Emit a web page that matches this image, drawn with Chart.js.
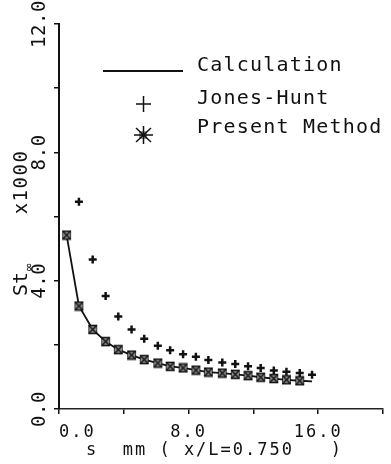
<!DOCTYPE html>
<html>
<head>
<meta charset="utf-8">
<script src="https://cdn.jsdelivr.net/npm/chart.js@4.4.0/dist/chart.umd.min.js"></script>
<style>
  html, body { margin: 0; padding: 0; background: #fff; }
  #wrap { width: 391px; height: 464px; }
</style>
</head>
<body>
<div id="wrap"><canvas id="chart" width="391" height="464"></canvas></div>
<script>
// s positions (mm)
const sPos = [0.47, 1.23, 2.08, 2.88, 3.66, 4.48, 5.26, 6.10, 6.86, 7.66,
              8.45, 9.22, 10.08, 10.88, 11.67, 12.45, 13.26, 14.04, 14.86, 15.62];

// St x 1000
const calcValues = [5.42, 3.21, 2.48, 2.10, 1.85, 1.68, 1.54, 1.43, 1.33, 1.28,
                    1.21, 1.15, 1.12, 1.08, 1.04, 0.99, 0.95, 0.91, 0.88, 0.86];
const presentValues = [5.42, 3.21, 2.48, 2.10, 1.85, 1.68, 1.54, 1.43, 1.33, 1.28,
                       1.21, 1.15, 1.12, 1.08, 1.04, 0.99, 0.95, 0.91, 0.88];
// Jones-Hunt starts at the second s position
const jonesValues = [6.46, 4.66, 3.52, 2.88, 2.48, 2.19, 1.97, 1.83, 1.71, 1.63,
                     1.53, 1.45, 1.40, 1.33, 1.28, 1.20, 1.16, 1.12, 1.07];

const xTickValues = [0, 8, 16];
const xTickLabels = ['0.0', '8.0', '16.0'];
const yTickValues = [0, 4, 8, 12];
const yTickLabels = ['0.0', '4.0', '8.0', '12.0'];
const legendLabels = ['Calculation', 'Jones-Hunt', 'Present Method'];

const MONO = '"DejaVu Sans Mono", "Liberation Mono", monospace';

// marker for "Present Method" points (box with a cross)
function makeBoxStar() {
  const c = document.createElement('canvas');
  c.width = 11; c.height = 11;
  const g = c.getContext('2d');
  g.fillStyle = '#8c8c8c';
  g.fillRect(2, 2, 7, 7);
  g.strokeStyle = '#111';
  g.lineWidth = 1.3;
  g.beginPath();
  g.moveTo(1, 1.5); g.lineTo(10, 1.5);
  g.moveTo(1, 9.5); g.lineTo(10, 9.5);
  g.moveTo(2, 2); g.lineTo(9, 9);
  g.moveTo(9, 2); g.lineTo(2, 9);
  g.stroke();
  g.lineWidth = 0.8;
  g.beginPath();
  g.moveTo(1.5, 2); g.lineTo(1.5, 9);
  g.moveTo(9.5, 2); g.lineTo(9.5, 9);
  g.stroke();
  return c;
}
const boxStar = makeBoxStar();

function toPoints(xs, ys, offset) {
  return ys.map((y, i) => ({ x: xs[i + offset], y: y }));
}

// текст: подписи осей, легенда
const paperText = {
  id: 'paperText',
  afterDraw(chart) {
    const ctx = chart.ctx;
    const xs = chart.scales.x;
    const ys = chart.scales.y;
    ctx.save();
    ctx.fillStyle = '#111';
    ctx.strokeStyle = '#111';

    // x tick labels
    ctx.font = '17px ' + MONO;
    ctx.letterSpacing = '2px';
    ctx.textBaseline = 'alphabetic';
    xTickValues.forEach((v, i) => {
      const px = xs.getPixelForValue(v);
      ctx.textAlign = i === 0 ? 'left' : 'center';
      ctx.fillText(xTickLabels[i], px, 437);
    });

    // x title
    ctx.textAlign = 'left';
    ctx.fillText('s  mm ( x/L=0.750   )', 86, 455);

    // y tick labels, rotated
    ctx.font = '19px ' + MONO;
    ctx.letterSpacing = '0.6px';
    ctx.textAlign = 'center';
    ctx.textBaseline = 'middle';
    yTickValues.forEach((v, i) => {
      const py = ys.getPixelForValue(v);
      ctx.save();
      ctx.translate(40, py);
      ctx.rotate(-Math.PI / 2);
      ctx.fillText(yTickLabels[i], 0, 0);
      ctx.restore();
    });

    // y title
    ctx.save();
    ctx.translate(22, 182);
    ctx.rotate(-Math.PI / 2);
    ctx.font = '19px ' + MONO;
    ctx.letterSpacing = '1.5px';
    ctx.fillText('x1000', 0, 0);
    ctx.restore();

    ctx.save();
    ctx.translate(22, 284);
    ctx.rotate(-Math.PI / 2);
    ctx.font = '20px ' + MONO;
    ctx.letterSpacing = '0px';
    ctx.fillText('St', 0, 0);
    ctx.restore();

    ctx.save();
    ctx.translate(30, 267);
    ctx.rotate(-Math.PI / 2);
    ctx.font = '13px ' + MONO;
    ctx.fillText('\u221e', 0, 0);
    ctx.restore();

    // legend
    ctx.font = '20px ' + MONO;
    ctx.letterSpacing = '1.2px';
    ctx.textAlign = 'left';
    ctx.textBaseline = 'alphabetic';
    ctx.fillText(legendLabels[0], 197, 71);
    ctx.fillText(legendLabels[1], 197, 104);
    ctx.fillText(legendLabels[2], 197, 133);

    ctx.lineWidth = 2;
    ctx.beginPath();
    ctx.moveTo(103, 71); ctx.lineTo(183, 71);
    ctx.stroke();

    ctx.lineWidth = 1.5;
    ctx.beginPath();
    ctx.moveTo(136, 104); ctx.lineTo(151, 104);
    ctx.moveTo(143.5, 96); ctx.lineTo(143.5, 112);
    ctx.stroke();

    // big star
    ctx.fillStyle = '#999';
    ctx.fillRect(139, 131, 8, 8);
    ctx.lineWidth = 1.5;
    ctx.beginPath();
    ctx.moveTo(134, 135); ctx.lineTo(153, 135);
    ctx.moveTo(143.5, 126); ctx.lineTo(143.5, 144);
    ctx.moveTo(136, 128); ctx.lineTo(151, 142);
    ctx.moveTo(151, 128); ctx.lineTo(136, 142);
    ctx.stroke();

    ctx.restore();
  }
};

const ctx = document.getElementById('chart').getContext('2d');
new Chart(ctx, {
  type: 'scatter',
  data: {
    datasets: [
      {
        label: legendLabels[2],
        data: toPoints(sPos, presentValues, 0),
        showLine: false,
        pointStyle: boxStar,
        pointRadius: 5
      },
      {
        label: legendLabels[1],
        data: toPoints(sPos, jonesValues, 1),
        showLine: false,
        pointStyle: 'cross',
        pointRadius: 4,
        borderWidth: 2.5,
        borderColor: '#111'
      },
      {
        label: legendLabels[0],
        data: toPoints(sPos, calcValues, 0),
        showLine: true,
        borderColor: '#111',
        borderWidth: 1.8,
        pointRadius: 0,
        tension: 0
      }
    ]
  },
  options: {
    responsive: false,
    animation: false,
    layout: { padding: { left: 0, right: 8, top: 24, bottom: 0 } },
    plugins: {
      legend: { display: false },
      tooltip: { enabled: false }
    },
    scales: {
      x: {
        type: 'linear',
        min: 0,
        max: 20,
        ticks: { stepSize: 4, display: false },
        grid: { drawOnChartArea: false, drawTicks: true, tickLength: 5, color: '#111', lineWidth: 1.5 },
        border: { display: true, color: '#222', width: 1.5 },
        afterFit(s) { s.height = 55; }
      },
      y: {
        min: 0,
        max: 12,
        ticks: { stepSize: 2, display: false },
        grid: { drawOnChartArea: false, drawTicks: true, tickLength: 5, color: '#111', lineWidth: 1.5 },
        border: { display: true, color: '#111', width: 2 },
        afterFit(s) { s.width = 59; }
      }
    }
  },
  plugins: [paperText]
});
</script>
</body>
</html>
